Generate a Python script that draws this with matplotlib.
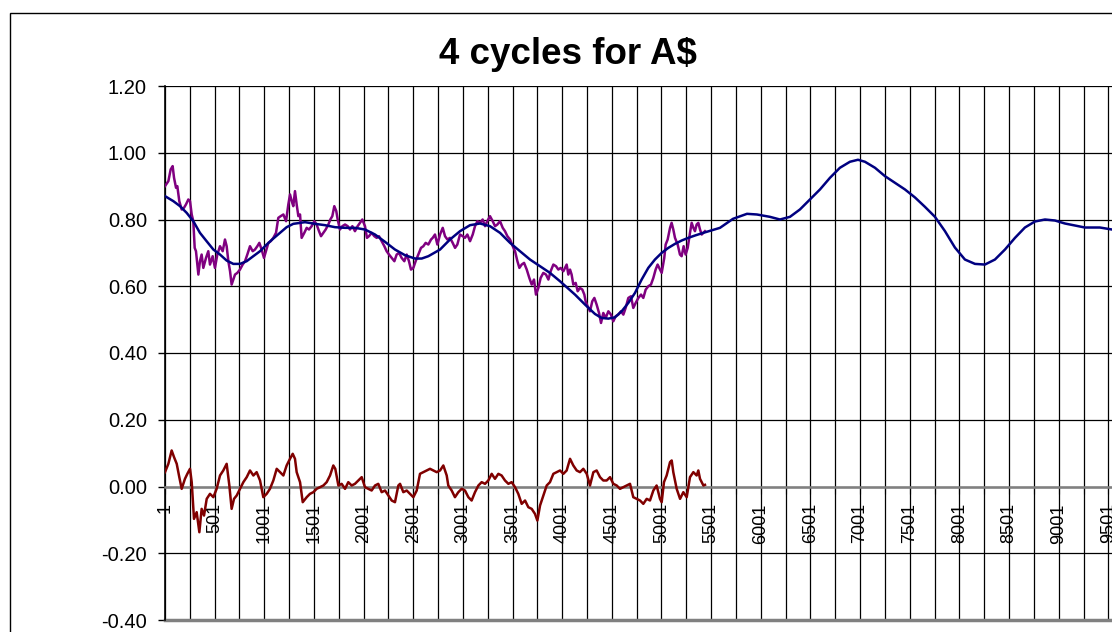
import matplotlib
matplotlib.use("Agg")
import matplotlib.pyplot as plt
from matplotlib.patches import Rectangle
from matplotlib.ticker import FixedLocator, FuncFormatter

plt.rcParams['font.family'] = ['Liberation Sans', 'DejaVu Sans']
plt.rcParams['axes.unicode_minus'] = False

title = "4 cycles for A$"

# Price series (purple)
price_x = [1, 35, 58, 78, 92, 112, 125, 145, 169, 192, 212, 236, 253, 270, 286, 300, 313, 337, 353, 370,
           387, 414, 437, 454, 481, 504, 528, 555, 582, 605, 622, 639, 656, 672, 689, 706, 729, 756, 783, 807,
           830, 857, 884, 907, 931, 951, 974, 998, 1018, 1042, 1065, 1092, 1119, 1142, 1166, 1193, 1220, 1243,
           1260, 1277, 1293, 1310, 1327, 1344, 1361, 1377, 1404, 1428, 1451, 1478, 1505, 1528, 1552, 1572,
           1596, 1619, 1646, 1666, 1686, 1706, 1726, 1740, 1763, 1787, 1814, 1841, 1864, 1888, 1914, 1941,
           1965, 1988, 2015, 2035, 2055, 2082, 2109, 2133, 2156, 2183, 2210, 2233, 2257, 2284, 2311, 2334,
           2358, 2384, 2411, 2435, 2458, 2478, 2502, 2525, 2552, 2579, 2603, 2626, 2653, 2680, 2697, 2720,
           2744, 2771, 2798, 2821, 2845, 2871, 2898, 2922, 2945, 2972, 2999, 3022, 3046, 3073, 3100, 3123,
           3147, 3174, 3200, 3224, 3247, 3274, 3301, 3325, 3348, 3375, 3402, 3425, 3449, 3476, 3503, 3526,
           3550, 3570, 3593, 3617, 3644, 3670, 3694, 3717, 3737, 3761, 3784, 3811, 3838, 3862, 3885, 3912,
           3939, 3962, 3986, 4013, 4046, 4063, 4080, 4096, 4113, 4137, 4157, 4180, 4204, 4224, 4237, 4257,
           4281, 4304, 4325, 4348, 4372, 4392, 4415, 4439, 4466, 4492, 4516, 4539, 4566, 4593, 4617, 4640,
           4667, 4694, 4717, 4741, 4768, 4795, 4818, 4842, 4868, 4895, 4919, 4942, 4962, 4986, 5003, 5029,
           5043, 5063, 5087, 5103, 5120, 5137, 5164, 5187, 5204, 5224, 5244, 5265, 5288, 5305, 5322, 5338,
           5355, 5372, 5389, 5406, 5422, 5439]
price_y = [0.90, 0.915, 0.95, 0.96, 0.925, 0.895, 0.90, 0.855, 0.83, 0.835, 0.845, 0.86, 0.855, 0.815, 0.795,
           0.715, 0.705, 0.635, 0.675, 0.695, 0.655, 0.685, 0.705, 0.665, 0.69, 0.655, 0.695, 0.72, 0.705, 0.74,
           0.72, 0.675, 0.645, 0.605, 0.62, 0.635, 0.64, 0.65, 0.665, 0.675, 0.695, 0.72, 0.705, 0.71, 0.72,
           0.73, 0.71, 0.685, 0.705, 0.73, 0.735, 0.745, 0.76, 0.805, 0.81, 0.815, 0.795, 0.845, 0.875, 0.855,
           0.84, 0.885, 0.845, 0.81, 0.815, 0.745, 0.76, 0.775, 0.77, 0.78, 0.795, 0.785, 0.765, 0.75, 0.76,
           0.77, 0.785, 0.80, 0.81, 0.84, 0.825, 0.80, 0.77, 0.78, 0.785, 0.78, 0.77, 0.78, 0.765, 0.78, 0.79,
           0.80, 0.78, 0.745, 0.75, 0.76, 0.75, 0.745, 0.75, 0.735, 0.72, 0.705, 0.695, 0.685, 0.675, 0.695,
           0.70, 0.685, 0.675, 0.695, 0.675, 0.65, 0.655, 0.675, 0.695, 0.715, 0.72, 0.73, 0.725, 0.74, 0.745,
           0.755, 0.725, 0.755, 0.775, 0.75, 0.74, 0.745, 0.73, 0.715, 0.725, 0.755, 0.75, 0.745, 0.755, 0.735,
           0.755, 0.78, 0.795, 0.79, 0.80, 0.78, 0.795, 0.81, 0.795, 0.78, 0.785, 0.795, 0.775, 0.765, 0.75,
           0.74, 0.72, 0.705, 0.675, 0.655, 0.665, 0.67, 0.65, 0.625, 0.605, 0.62, 0.575, 0.595, 0.625, 0.64,
           0.635, 0.62, 0.645, 0.665, 0.66, 0.65, 0.655, 0.645, 0.665, 0.635, 0.65, 0.635, 0.605, 0.61, 0.585,
           0.595, 0.59, 0.575, 0.555, 0.54, 0.525, 0.555, 0.565, 0.545, 0.52, 0.49, 0.52, 0.505, 0.525, 0.515,
           0.495, 0.51, 0.515, 0.525, 0.515, 0.535, 0.565, 0.57, 0.535, 0.55, 0.565, 0.575, 0.565, 0.59, 0.60,
           0.605, 0.625, 0.65, 0.665, 0.65, 0.64, 0.685, 0.725, 0.74, 0.775, 0.79, 0.77, 0.745, 0.725, 0.695,
           0.69, 0.72, 0.695, 0.715, 0.76, 0.79, 0.775, 0.765, 0.785, 0.79, 0.77, 0.755, 0.76, 0.765]

# Cycle model (navy)
cycle_x = [1, 85, 152, 219, 286, 353, 420, 488, 555, 622, 689, 756, 823, 890, 958, 1025, 1092, 1159, 1226,
           1293, 1411, 1512, 1612, 1713, 1814, 1915, 2015, 2116, 2217, 2317, 2418, 2519, 2586, 2653, 2771,
           2871, 2972, 3073, 3174, 3274, 3375, 3476, 3576, 3677, 3778, 3878, 3979, 4130, 4231, 4331, 4398,
           4466, 4533, 4600, 4667, 4734, 4801, 4868, 4935, 5003, 5070, 5137, 5204, 5271, 5338, 5422, 5590,
           5721, 5862, 5962, 6093, 6194, 6295, 6395, 6496, 6597, 6698, 6798, 6899, 6980, 7050, 7151, 7251,
           7352, 7453, 7554, 7654, 7755, 7856, 7956, 8057, 8158, 8258, 8359, 8460, 8561, 8661, 8762, 8863,
           8963, 9064, 9165, 9265, 9416, 9538]
cycle_y = [0.87, 0.855, 0.84, 0.82, 0.795, 0.76, 0.735, 0.71, 0.695, 0.677, 0.667, 0.667, 0.675, 0.69, 0.705,
           0.725, 0.743, 0.76, 0.777, 0.787, 0.792, 0.787, 0.783, 0.777, 0.775, 0.775, 0.77, 0.755, 0.733,
           0.71, 0.693, 0.683, 0.683, 0.69, 0.71, 0.74, 0.765, 0.783, 0.788, 0.78, 0.76, 0.73, 0.705, 0.68,
           0.66, 0.64, 0.615, 0.575, 0.545, 0.517, 0.505, 0.503, 0.507, 0.525, 0.55, 0.58, 0.62, 0.655, 0.68,
           0.70, 0.715, 0.727, 0.737, 0.745, 0.752, 0.76, 0.775, 0.802, 0.817, 0.815, 0.808, 0.80, 0.808,
           0.83, 0.86, 0.89, 0.925, 0.955, 0.973, 0.979, 0.973, 0.955, 0.93, 0.91, 0.89, 0.866, 0.838, 0.808,
           0.765, 0.716, 0.68, 0.667, 0.665, 0.68, 0.71, 0.745, 0.776, 0.794, 0.80, 0.797, 0.788, 0.782,
           0.776, 0.776, 0.77]

# Residual (dark red)
resid_x = [1, 35, 68, 92, 119, 145, 169, 202, 226, 253, 270, 293, 320, 347, 370, 394, 421, 454, 488, 521,
           555, 588, 622, 649, 672, 696, 723, 756, 790, 824, 857, 891, 924, 958, 991, 1025, 1058, 1092, 1126,
           1159, 1193, 1226, 1260, 1287, 1310, 1327, 1361, 1388, 1428, 1461, 1495, 1528, 1562, 1596, 1629,
           1663, 1696, 1716, 1747, 1780, 1814, 1847, 1881, 1914, 1948, 1982, 2015, 2049, 2082, 2116, 2149,
           2183, 2217, 2250, 2284, 2317, 2351, 2368, 2401, 2435, 2468, 2502, 2536, 2569, 2603, 2636, 2670,
           2703, 2737, 2771, 2804, 2838, 2854, 2888, 2921, 2955, 2989, 3022, 3056, 3089, 3123, 3157, 3190,
           3224, 3257, 3291, 3324, 3358, 3391, 3425, 3459, 3492, 3526, 3559, 3593, 3627, 3660, 3694, 3727,
           3751, 3778, 3811, 3845, 3878, 3912, 3945, 3979, 4013, 4046, 4080, 4113, 4147, 4180, 4214, 4248,
           4281, 4315, 4348, 4382, 4415, 4449, 4483, 4516, 4550, 4583, 4617, 4650, 4684, 4717, 4751, 4785,
           4818, 4852, 4885, 4919, 4952, 4986, 5003, 5026, 5053, 5087, 5104, 5120, 5154, 5188, 5221, 5255,
           5288, 5322, 5355, 5372, 5389, 5423, 5439]
resid_y = [0.043, 0.068, 0.108, 0.088, 0.068, 0.028, -0.007, 0.023, 0.038, 0.053, 0.013, -0.097, -0.077,
           -0.137, -0.067, -0.087, -0.037, -0.022, -0.032, -0.007, 0.033, 0.048, 0.068, 0.003, -0.067, -0.037,
           -0.027, -0.007, 0.013, 0.028, 0.048, 0.033, 0.043, 0.018, -0.032, -0.022, -0.007, 0.018, 0.053,
           0.043, 0.033, 0.063, 0.083, 0.098, 0.083, 0.043, 0.013, -0.047, -0.032, -0.022, -0.017, -0.007,
           -0.002, 0.003, 0.013, 0.033, 0.063, 0.053, 0.003, 0.008, -0.007, 0.013, 0.003, 0.008, 0.018, 0.028,
           -0.002, -0.007, -0.012, 0.003, 0.008, -0.017, -0.012, -0.027, -0.042, -0.047, 0.003, 0.008, -0.017,
           -0.012, -0.022, -0.032, -0.012, 0.038, 0.043, 0.048, 0.053, 0.048, 0.043, 0.048, 0.063, 0.033,
           0.003, -0.012, -0.032, -0.017, -0.007, -0.012, -0.032, -0.042, -0.017, 0.003, 0.013, 0.008, 0.018,
           0.038, 0.023, 0.038, 0.033, 0.018, 0.008, 0.013, -0.002, -0.022, -0.052, -0.042, -0.062, -0.067,
           -0.082, -0.102, -0.057, -0.027, 0.003, 0.013, 0.038, 0.043, 0.048, 0.038, 0.048, 0.083, 0.063,
           0.048, 0.043, 0.053, 0.038, 0.003, 0.043, 0.048, 0.028, 0.018, 0.018, 0.028, 0.008, 0.003, -0.007,
           -0.002, 0.003, 0.008, -0.032, -0.037, -0.042, -0.052, -0.037, -0.042, -0.012, 0.003, -0.037,
           -0.047, 0.013, 0.033, 0.073, 0.078, 0.043, -0.007, -0.037, -0.017, -0.032, 0.028, 0.043, 0.033,
           0.048, 0.023, 0.003, 0.005]

x_labels = [str(v) for v in range(1, 9502, 500)]
y_ticks = [-0.40, -0.20, 0.00, 0.20, 0.40, 0.60, 0.80, 1.00, 1.20]

W, H = 1112, 632
fig = plt.figure(figsize=(W / 100, H / 100), dpi=100)
fig.patch.set_facecolor('white')

# outer chart border
fig.add_artist(Rectangle((9.5 / W, -0.2), 1.2, (H - 13) / H + 0.2, transform=fig.transFigure,
                         fill=False, edgecolor='black', lw=1.0))

left, right = 165 / W, 1.0
bottom, top = (H - 620) / H, (H - 86) / H
ax = fig.add_axes([left, bottom, right - left, top - bottom])
ax.set_xlim(1, 9538)
ax.set_ylim(-0.40, 1.20)

ax.plot(price_x, price_y, color='#800080', lw=1.8, zorder=3)
ax.plot(cycle_x, cycle_y, color='#000080', lw=1.8, zorder=4)
ax.plot(resid_x, resid_y, color='#800000', lw=1.8, zorder=3)

# grid / ticks
ax.xaxis.set_major_locator(FixedLocator([int(v) for v in x_labels]))
ax.xaxis.set_minor_locator(FixedLocator(list(range(251, 9538, 500))))
ax.xaxis.set_major_formatter(FuncFormatter(lambda v, p: x_labels[p] if p is not None and p < len(x_labels) else ""))
ax.yaxis.set_major_locator(FixedLocator(y_ticks))
ax.yaxis.set_major_formatter(FuncFormatter(lambda v, p: f"{v:.2f}"))
ax.tick_params(axis='y', labelsize=14.5, length=5, width=1, pad=8, direction='out', colors='black')
ax.tick_params(axis='x', which='both', length=5, width=0.8, pad=7, direction='out', color='black',
               labelsize=13, labelrotation=90)

ax.grid(True, which='both', axis='x', color='black', lw=0.9)
ax.grid(True, which='major', axis='y', color='black', lw=0.9)
ax.set_axisbelow(True)

ax.spines['bottom'].set_position(('data', 0))
ax.spines['bottom'].set_color('#808080')
ax.spines['bottom'].set_linewidth(1.8)
ax.spines['bottom'].set_zorder(2.5)
ax.spines['left'].set_color('black')
ax.spines['left'].set_linewidth(1.2)
ax.spines['top'].set_visible(False)
ax.spines['right'].set_visible(False)
ax.axhline(-0.40, color='#808080', lw=2.5, clip_on=False, zorder=2)

fig.text(568 / W, (H - 55) / H, title, ha='center', va='center', fontsize=26.5, fontweight='bold')

fig.savefig('out.png', dpi=100, facecolor='white')
